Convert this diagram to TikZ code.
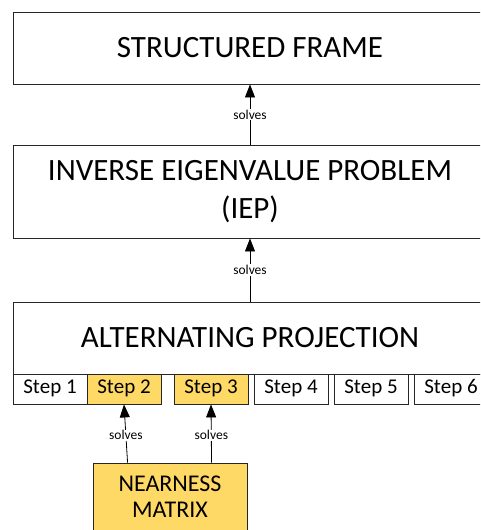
\documentclass[tikz,border=0pt]{standalone}
\usepackage{fontspec}
\setmainfont{Carlito}
\usetikzlibrary{arrows.meta,calc}
\definecolor{gold}{HTML}{FFD966}
\definecolor{edge}{HTML}{262626}
\tikzset{
  bigbox/.style={draw=edge, line width=0.9pt, fill=white, minimum width=474pt, inner sep=0pt, align=center, font=\fontsize{31}{36}\selectfont},
  stepbox/.style={draw=edge, line width=0.9pt, fill=white, minimum width=74pt, minimum height=30pt, inner sep=0pt, text height=14pt, text depth=4pt, font=\fontsize{21}{24}\selectfont},
  hlbox/.style={stepbox, fill=gold},
  nmbox/.style={draw=edge, line width=0.9pt, fill=gold, minimum width=154pt, minimum height=68pt, inner sep=0pt, align=center, font=\fontsize{24}{26}\selectfont},
  conn/.style={draw=black, line width=0.8pt, -{Triangle[width=10pt,length=13pt]}},
  lbl/.style={fill=white, inner sep=1pt, font=\fontsize{13.5}{15}\selectfont}
}
\begin{document}
\begin{tikzpicture}[x=1pt,y=1pt]
\useasboundingbox (0,0) rectangle (480,530);
\begin{scope}
\clip (0,0) rectangle (480,530);
\node[bigbox, minimum height=72pt] (sf) at (250,482) {STRUCTURED FRAME};
\node[bigbox, minimum height=93pt] (iep) at (250,338.5) {INVERSE EIGENVALUE PROBLEM\\[2pt](IEP)};
\node[bigbox, minimum height=72pt] (ap) at (250,192) {ALTERNATING PROJECTION};
\node[stepbox] (s1) at (50,141) {Step 1};
\node[hlbox] (s2) at (124,141) {Step 2};
\node[hlbox] (s3) at (211,141) {Step 3};
\node[stepbox] (s4) at (291,141) {Step 4};
\node[stepbox] (s5) at (371,141) {Step 5};
\node[stepbox] (s6) at (451,141) {Step 6};
\node[nmbox] (nm) at (170,33) {NEARNESS\\MATRIX};
\coordinate (nma) at ($(nm.north west)+(35,0)$);
\coordinate (nmb) at ($(nm.north west)+(119,0)$);
\draw[conn] (iep.north) -- node[lbl, pos=0.5] {solves} (sf.south);
\draw[conn] (ap.north) -- node[lbl, pos=0.5] {solves} (iep.south);
\draw[conn] (nma) -- node[lbl, pos=0.47] {solves} (s2.south);
\draw[conn] (nmb) -- node[lbl, pos=0.47] {solves} (s3.south);
\end{scope}
\end{tikzpicture}
\end{document}
